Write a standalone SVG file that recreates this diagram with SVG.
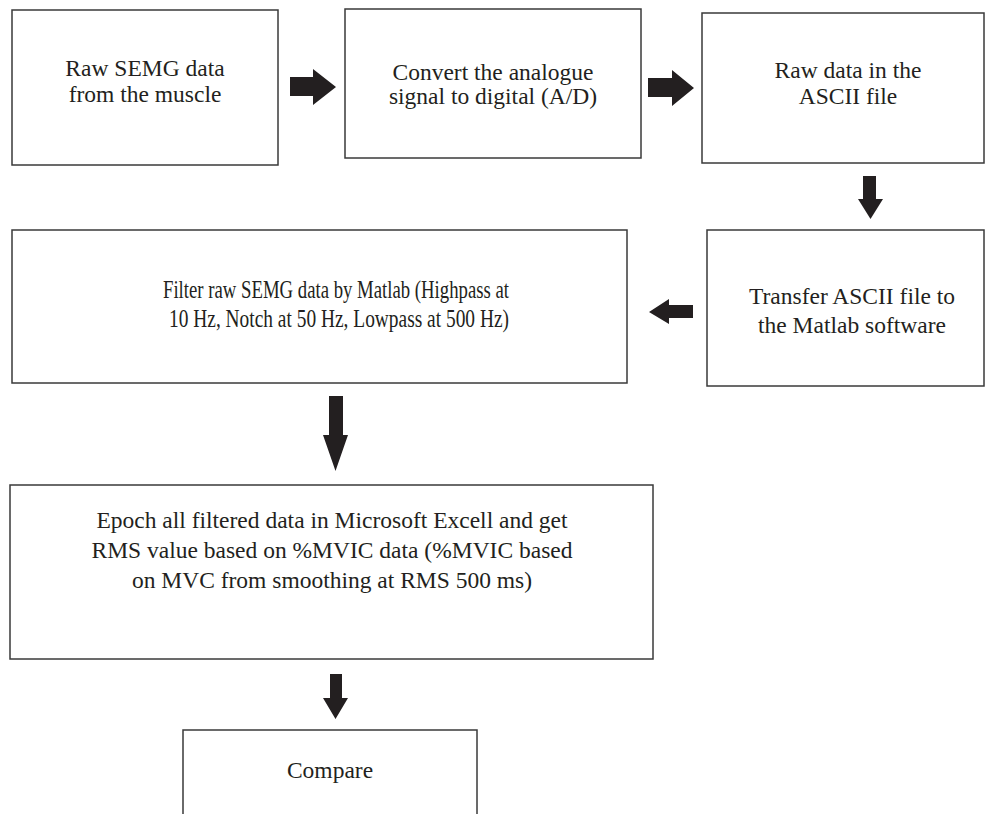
<svg xmlns="http://www.w3.org/2000/svg" width="987" height="814" viewBox="0 0 987 814">
<style>
.box{fill:#fff;stroke:#3a3a3a;stroke-width:1.5}
.t{font-family:"Liberation Serif","Times New Roman",serif;font-size:23.5px;fill:#231f20;text-anchor:middle}
.c{font-size:24.5px}
.arr{fill:#231f20}
</style>
<rect width="987" height="814" fill="#fff"/>
<g id="n1"><rect class="box" x="12" y="10" width="266" height="155"/>
<text class="t" x="145" y="76">Raw SEMG data</text>
<text class="t" x="145" y="102">from the muscle</text></g>
<g id="n2"><rect class="box" x="345" y="9" width="296" height="149"/>
<text class="t" x="493" y="80">Convert the analogue</text>
<text class="t" x="493" y="104">signal to digital (A/D)</text></g>
<g id="n3"><rect class="box" x="702" y="13" width="282" height="150"/>
<text class="t" x="848" y="78">Raw data in the</text>
<text class="t" x="848" y="104">ASCII file</text></g>
<g id="n4"><rect class="box" x="707" y="230" width="277" height="156"/>
<text class="t" x="852" y="304">Transfer ASCII file to</text>
<text class="t" x="852" y="333">the Matlab software</text></g>
<g id="n5"><rect class="box" x="12" y="230" width="615" height="153"/>
<text class="t c" x="336" y="298" textLength="346" lengthAdjust="spacingAndGlyphs">Filter raw SEMG data by Matlab (Highpass at</text>
<text class="t c" x="339" y="327" textLength="340" lengthAdjust="spacingAndGlyphs">10 Hz, Notch at 50 Hz, Lowpass at 500 Hz)</text></g>
<g id="n6"><rect class="box" x="10" y="485" width="643" height="174"/>
<text class="t" x="332" y="528">Epoch all filtered data in Microsoft Excell and get</text>
<text class="t" x="332" y="558">RMS value based on %MVIC data (%MVIC based</text>
<text class="t" x="332" y="588">on MVC from smoothing at RMS 500 ms)</text></g>
<g id="n7"><rect class="box" x="183" y="730" width="294" height="110"/>
<text class="t" x="330" y="778">Compare</text></g>
<g id="connectors">
<polygon class="arr" points="290,77 313,77 313,69 336,87 313,105 313,96 290,96"/>
<polygon class="arr" points="648,78 672,78 672,70 694,88 672,106 672,97 648,97"/>
<polygon class="arr" points="863,176 876,176 876,199 883,199 870.5,219 858,199 863,199"/>
<polygon class="arr" points="693,305 669,305 669,299 649,312 669,324 669,318 693,318"/>
<polygon class="arr" points="329,396 343,396 343,435 348,435 335.5,471 323,435 329,435"/>
<polygon class="arr" points="330,674 342,674 342,698 348,698 335.5,719 323,698 330,698"/>
</g>
</svg>
